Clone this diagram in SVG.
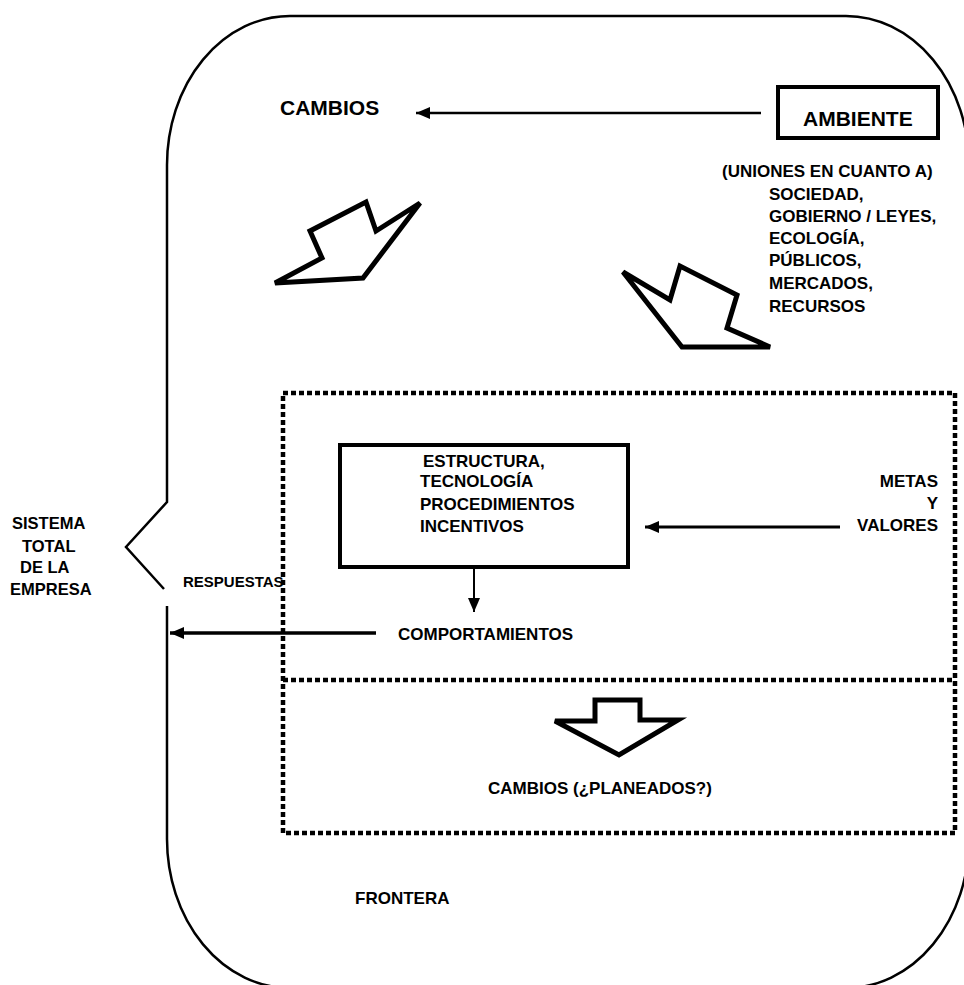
<svg xmlns="http://www.w3.org/2000/svg" width="964" height="985" viewBox="0 0 964 985">
<defs>
<style>
text{font-family:"Liberation Sans",Arial,sans-serif;font-weight:bold;fill:#000}
.f21{font-size:21px}
.f17{font-size:17px}
.f16{font-size:16.5px}
.f15{font-size:15px}
.ln{stroke:#000;fill:none}
.big{fill:#fff;stroke:#000;stroke-width:5;stroke-linejoin:miter}
.dot{fill:none;stroke:#000;stroke-width:4.5;stroke-dasharray:5 3}
.box{fill:#fff;stroke:#000;stroke-width:4}
</style>
<marker id="ah" markerUnits="userSpaceOnUse" markerWidth="14" markerHeight="12" refX="14" refY="6" orient="auto"><path d="M0,0 L14,6 L0,12 Z" fill="#000"/></marker>
</defs>
<rect width="964" height="985" fill="#fff"/>
<g id="frontera">
<path class="ln" stroke-width="2.5" d="M164,589 L126,547 L167,502 V165 A123,149 0 0 1 290,16 H846 A123,149 0 0 1 969,165 V839 A123,149 0 0 1 846,988 H290 A123,149 0 0 1 167,839 V606"/>
<text class="f17" x="355" y="904">FRONTERA</text>
</g>
<g id="sistema">
<text class="f16" x="12" y="529">SISTEMA</text>
<text class="f16" x="22" y="552">TOTAL</text>
<text class="f16" x="20" y="573">DE LA</text>
<text class="f16" x="10" y="595">EMPRESA</text>
</g>
<g id="cambios"><text class="f21" x="280" y="115">CAMBIOS</text></g>
<g id="ambiente">
<rect class="box" x="778" y="87" width="160" height="51"/>
<text class="f21" x="803" y="126">AMBIENTE</text>
</g>
<g id="uniones" class="f17">
<text x="722" y="177">(UNIONES EN CUANTO A)</text>
<text x="769" y="200">SOCIEDAD,</text>
<text x="769" y="222">GOBIERNO / LEYES,</text>
<text x="769" y="244">ECOLOGÍA,</text>
<text x="769" y="266">PÚBLICOS,</text>
<text x="769" y="289">MERCADOS,</text>
<text x="769" y="312">RECURSOS</text>
</g>
<g id="flecha1"><polygon class="big" points="275,283 322,258 310,231 366,202 376,231 420,203 363,278"/></g>
<g id="flecha2"><polygon class="big" points="623,272 670,300 680,266 737,295 727,328 770,347 682,347"/></g>
<g id="organizacion">
<rect class="dot" x="283" y="393" width="672" height="440"/>
<line class="dot" x1="283" y1="680" x2="955" y2="680"/>
</g>
<g id="estructura">
<rect class="box" x="340" y="445" width="288" height="122"/>
<text class="f17" x="423" y="467">ESTRUCTURA,</text>
<text class="f17" x="420" y="487">TECNOLOGÍA</text>
<text class="f17" x="420" y="510">PROCEDIMIENTOS</text>
<text class="f17" x="420" y="532">INCENTIVOS</text>
</g>
<g id="metas" class="f17" text-anchor="end">
<text x="938" y="487">METAS</text>
<text x="938" y="509">Y</text>
<text x="938" y="531">VALORES</text>
</g>
<g id="comportamientos"><text class="f17" x="398" y="640">COMPORTAMIENTOS</text></g>
<g id="respuestas"><text class="f15" x="183" y="587">RESPUESTAS</text></g>
<g id="flecha3"><polygon class="big" points="595,700 640,700 640,720 678,720 619,755 555,721 595,721"/></g>
<g id="cambios2"><text class="f17" x="488" y="794">CAMBIOS (¿PLANEADOS?)</text></g>
<g id="connectors">
<line class="ln" stroke-width="2.5" x1="761" y1="113" x2="416" y2="113" marker-end="url(#ah)"/>
<line class="ln" stroke-width="3" x1="840" y1="527" x2="645" y2="527" marker-end="url(#ah)"/>
<line class="ln" stroke-width="2" x1="474" y1="567" x2="474" y2="612" marker-end="url(#ah)"/>
<line class="ln" stroke-width="3.5" x1="376" y1="633" x2="170" y2="633" marker-end="url(#ah)"/>
</g>
</svg>
